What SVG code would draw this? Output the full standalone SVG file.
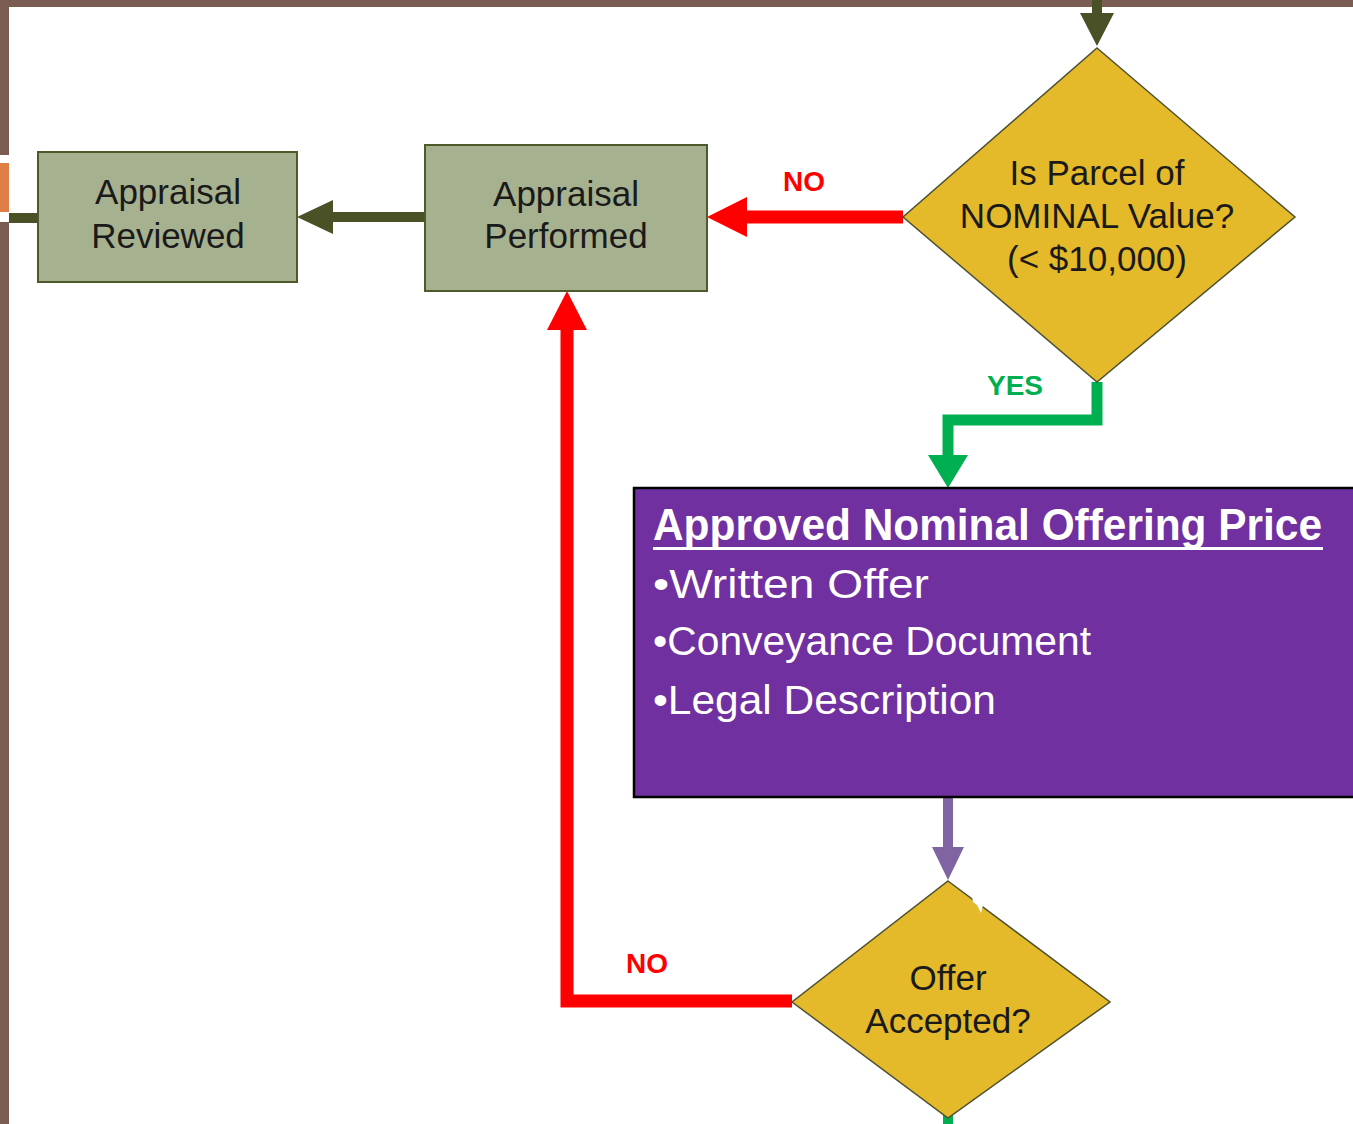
<svg xmlns="http://www.w3.org/2000/svg" width="1353" height="1124" viewBox="0 0 1353 1124">
<style>
.box{fill:#a6b18f;stroke:#4f5a2b;stroke-width:2}
.dia{fill:#e4b92a;stroke:#4d5130;stroke-width:1.5}
.lbl{font-family:"Liberation Sans",Arial,sans-serif;font-size:35px;fill:#1a1a1a;text-anchor:middle}
.yn{font-family:"Liberation Sans",Arial,sans-serif;font-size:28px;font-weight:bold;text-anchor:middle}
.pt{font-family:"Liberation Sans Narrow","Liberation Sans",Arial,sans-serif;fill:#ffffff}
.olive{stroke:#4a5127;fill:none;stroke-width:10}
.red{stroke:#ff0000;fill:none;stroke-width:13}
</style>
<rect x="0" y="0" width="1353" height="1124" fill="#ffffff"/>
<g id="frame">
<rect x="0" y="0" width="1353" height="7" fill="#7a5c52"/>
<rect x="0" y="0" width="9" height="155" fill="#7a5c52"/>
<rect x="0" y="163" width="9" height="49" fill="#e07f45"/>
<rect x="0" y="222" width="9" height="902" fill="#7a5c52"/>
</g>
<g id="connectors">
<line class="olive" x1="9" y1="218" x2="40" y2="218"/>
<circle cx="40" cy="218" r="5" fill="#4a5127"/>
<line class="olive" x1="330" y1="217" x2="428" y2="217" stroke-linecap="round"/>
<polygon points="297,217 333,200 333,234" fill="#4a5127"/>
<line class="olive" x1="1097" y1="0" x2="1097" y2="16"/>
<polygon points="1080,13 1114,13 1097,46" fill="#4a5127"/>
<line class="red" x1="903" y1="217" x2="745" y2="217"/>
<polygon points="707,217 747,197 747,237" fill="#ff0000"/>
<polyline points="1097,382 1097,420 948,420 948,457" fill="none" stroke="#00b050" stroke-width="11" stroke-linejoin="miter"/>
<polygon points="928,455 968,455 948,488" fill="#00b050"/>
<line x1="948" y1="797" x2="948" y2="849" stroke="#8064a2" stroke-width="10"/>
<polygon points="932,847 964,847 948,880" fill="#8064a2"/>
<polyline class="red" points="792,1001 567,1001 567,328" stroke-linejoin="miter"/>
<polygon points="547,330 587,330 567,291" fill="#ff0000"/>
<line x1="948" y1="1115" x2="948" y2="1124" stroke="#00b050" stroke-width="10"/>
<text class="yn" x="804" y="191" fill="#ff0000">NO</text>
<text class="yn" x="1015" y="395" fill="#00b050">YES</text>
<text class="yn" x="647" y="973" fill="#ff0000">NO</text>
</g>
<g id="appraisal-reviewed">
<rect class="box" x="38" y="152" width="259" height="130"/>
<text class="lbl" x="168" y="204">Appraisal</text>
<text class="lbl" x="168" y="248">Reviewed</text>
</g>
<g id="appraisal-performed">
<rect class="box" x="425" y="145" width="282" height="146"/>
<text class="lbl" x="566" y="206">Appraisal</text>
<text class="lbl" x="566" y="248">Performed</text>
</g>
<g id="nominal-decision">
<polygon class="dia" points="1097,48 1295,217 1097,382 903,217"/>
<text class="lbl" x="1097" y="185">Is Parcel of</text>
<text class="lbl" x="1097" y="228">NOMINAL Value?</text>
<text class="lbl" x="1097" y="271">(&lt; $10,000)</text>
</g>
<g id="offering-price">
<rect x="634" y="488" width="740" height="309" fill="#7030a0" stroke="#000000" stroke-width="2.5"/>
<text class="pt" x="653" y="540" font-size="44" font-weight="bold" textLength="669" lengthAdjust="spacingAndGlyphs">Approved Nominal Offering Price</text>
<rect x="653" y="547" width="670" height="3" fill="#ffffff"/>
<text class="pt" x="653" y="598" font-size="41" textLength="276" lengthAdjust="spacingAndGlyphs">•Written Offer</text>
<text class="pt" x="653" y="655" font-size="41" textLength="438" lengthAdjust="spacingAndGlyphs">•Conveyance Document</text>
<text class="pt" x="653" y="714" font-size="41" textLength="343" lengthAdjust="spacingAndGlyphs">•Legal Description</text>
</g>
<g id="offer-decision">
<polygon class="dia" points="948,881 1110,1002 948,1118 792,1002"/>
<polygon points="972,896 978,899 983,905 981,913 977,905 973,902" fill="#ffffff"/>
<text class="lbl" x="948" y="990">Offer</text>
<text class="lbl" x="948" y="1033">Accepted?</text>
</g>
</svg>
